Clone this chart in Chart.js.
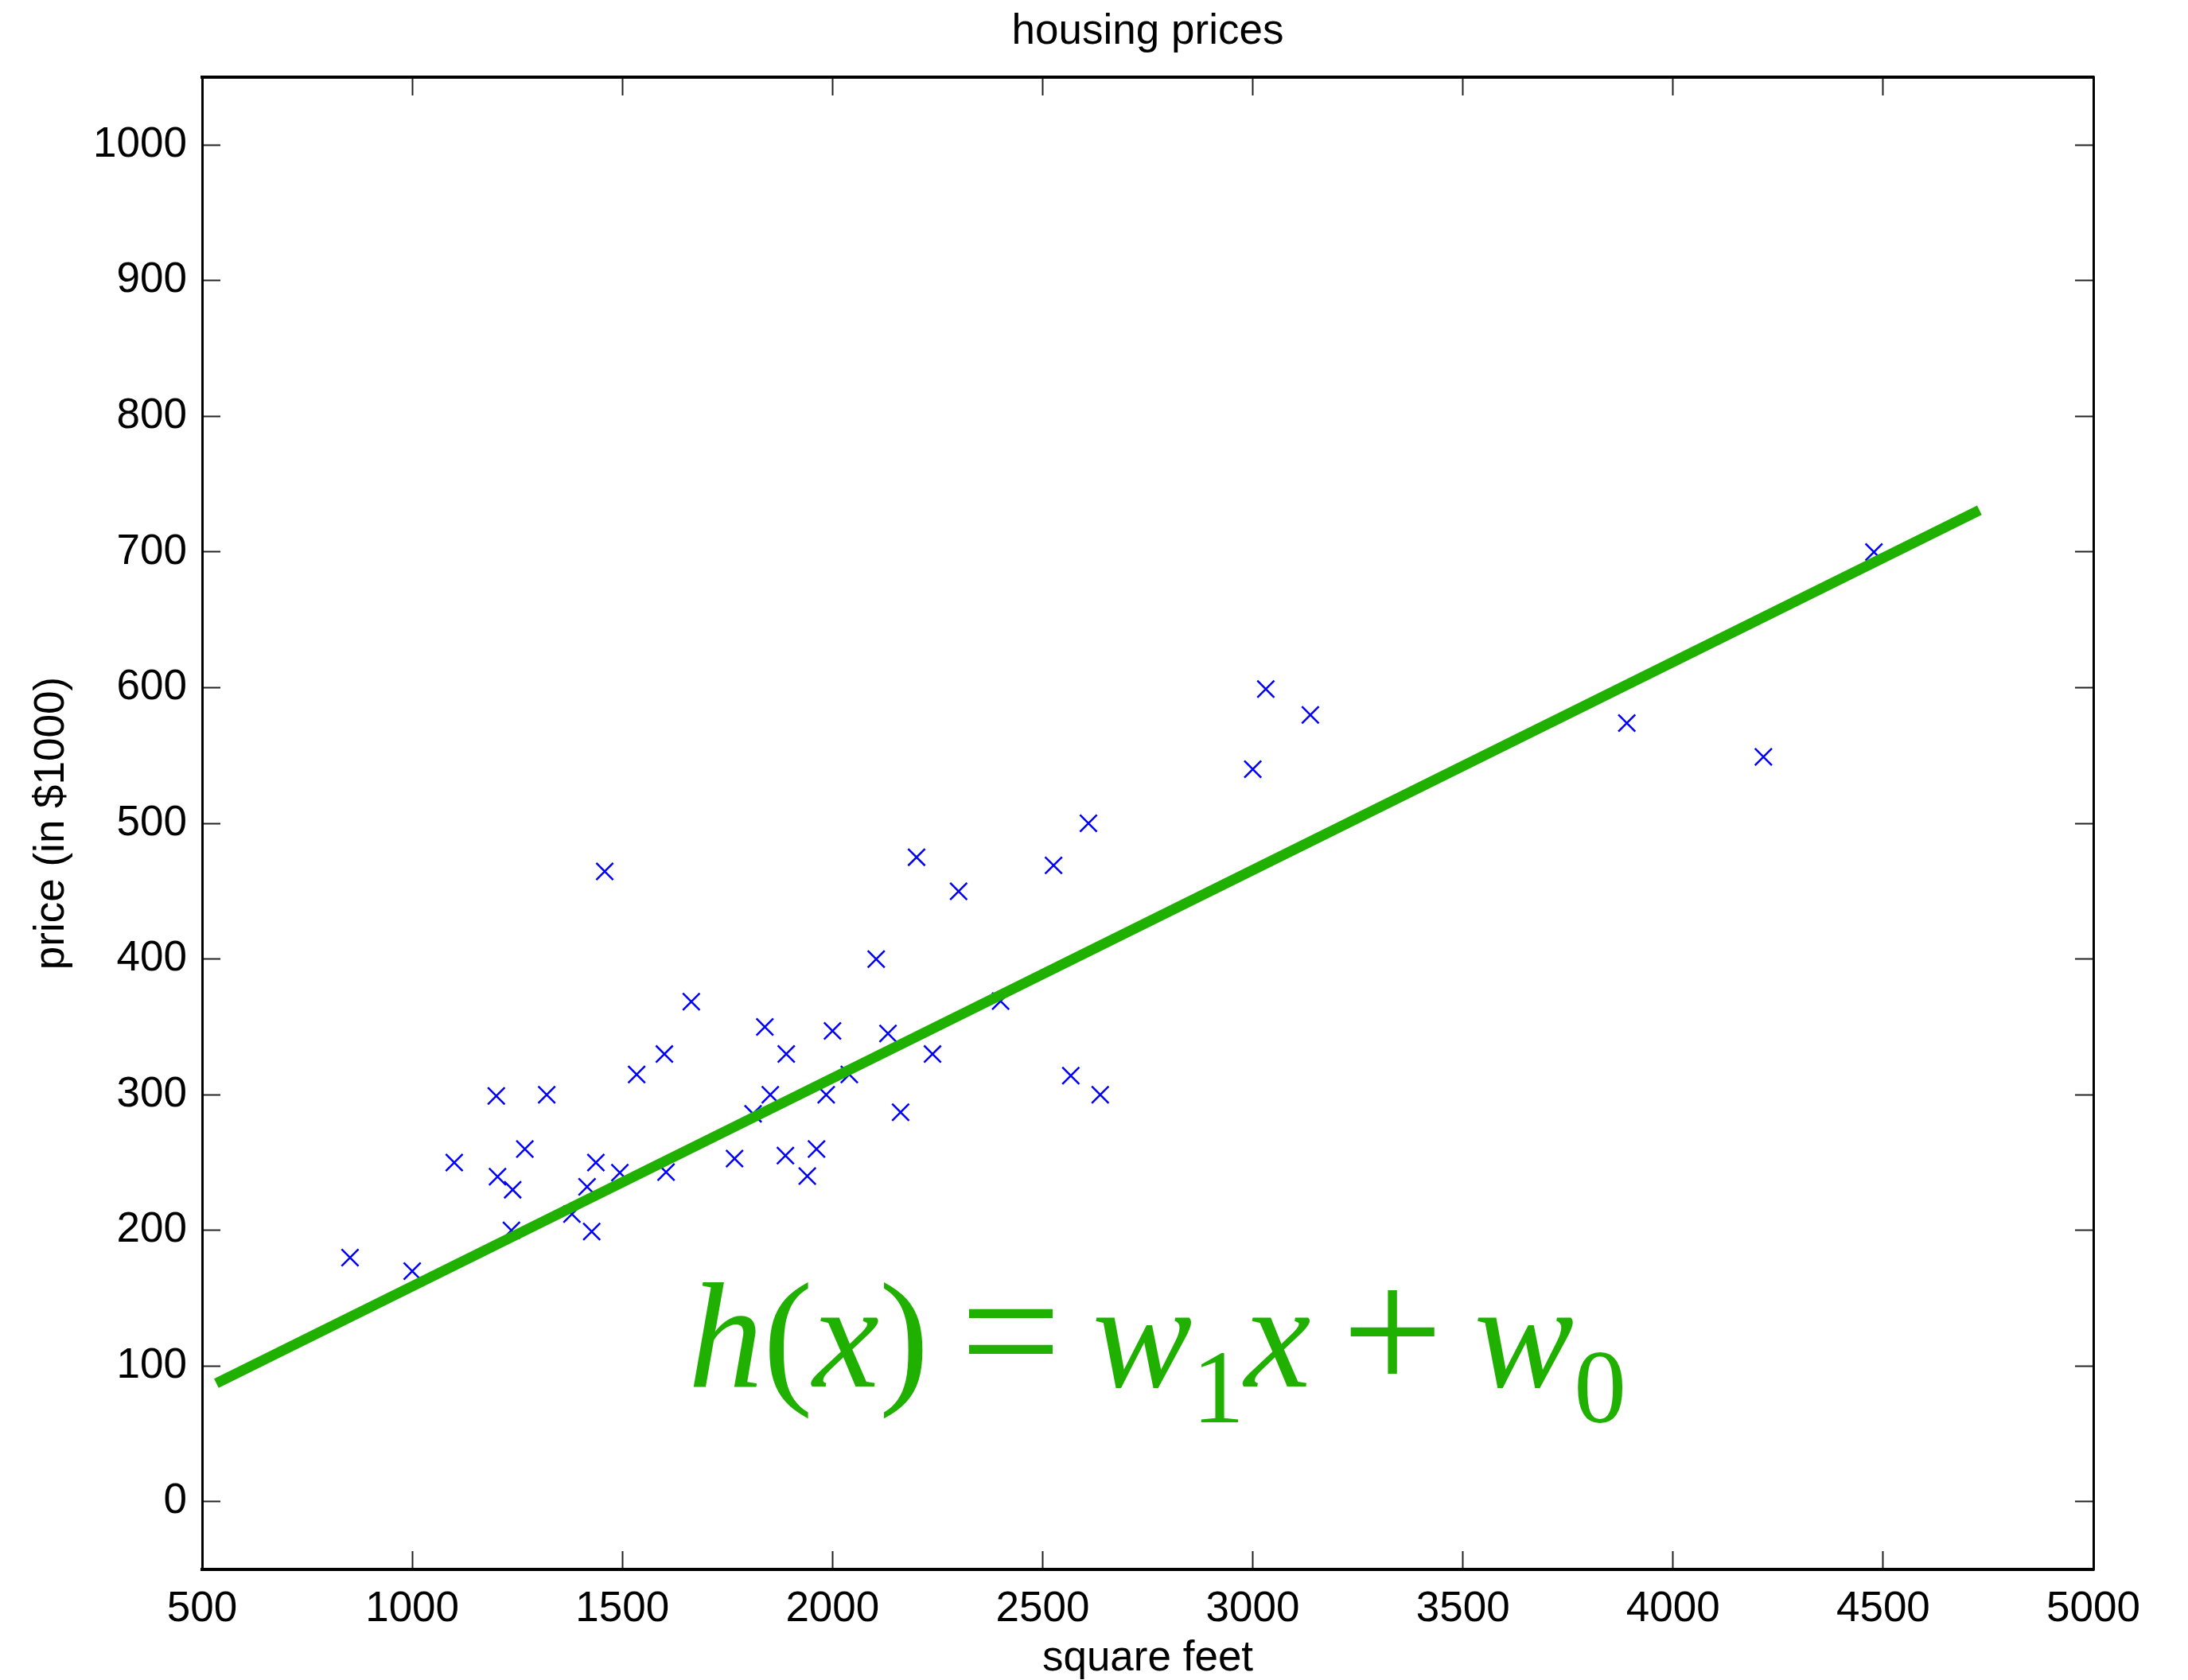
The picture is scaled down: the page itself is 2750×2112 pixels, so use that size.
<!DOCTYPE html>
<html>
<head>
<meta charset="utf-8">
<script src="https://cdn.jsdelivr.net/npm/chart.js@4.4.1/dist/chart.umd.min.js"></script>
<style>
html,body{margin:0;padding:0;background:#fff;}
#wrap{position:relative;width:2750px;height:2112px;background:#fff;}
#c{position:absolute;left:0;top:0;}
#eq{position:absolute;left:865px;top:1586px;font-family:"Liberation Serif","Times New Roman",serif;font-size:188px;line-height:188px;color:#20b000;white-space:nowrap;word-spacing:-8px;}
#eq i{font-style:italic;}
#eq .s{font-size:70%;position:relative;top:45px;line-height:0;}
#eq .op{font-size:120%;position:relative;top:6px;line-height:0;}
</style>
</head>
<body>
<div id="wrap">
<canvas id="c" width="2750" height="2112"></canvas>
<div id="eq"><i>h</i>(<i>x</i>) <span class="op">=</span> <i>w</i><span class="s">1</span><i>x</i> <span class="op">+</span> <i>w</i><span class="s">0</span></div>
</div>
<script>
// square feet of each house
const sqft = [2104,1600,2400,1416,3000,1985,1534,1427,1380,1494,1940,2000,1890,4478,1268,2300,1320,1236,2609,3031,1767,1888,1604,1962,3890,1100,1458,2526,2200,2637,1839,1000,2040,3137,1811,1437,1239,2132,4215,2162,1664,2238,2567,1200,852,1852,1203];
// price in $1000
const price = [399.9,329.9,369.0,232.0,539.9,299.9,314.9,199.0,212.0,242.5,240.0,347.0,330.0,699.9,259.9,449.9,299.9,199.9,500.0,599.0,252.9,255.0,242.9,259.9,573.9,249.9,464.5,469.0,475.0,299.9,349.9,169.9,314.9,579.9,285.9,249.9,229.9,345.0,549.0,287.0,368.5,329.9,314.0,299.0,179.9,299.9,239.5];
// hypothesis line end points
const fitX = [534, 4729];
const fitY = [87.2, 730.8];
// tick labels
const xTickValues = [500,1000,1500,2000,2500,3000,3500,4000,4500,5000];
const yTickValues = [0,100,200,300,400,500,600,700,800,900,1000];

const FONT = {family:"'Liberation Sans', Arial, Helvetica, sans-serif", size:53, lineHeight:1.2, weight:'normal'};
function gridOpts(){
  return {display:true, drawOnChartArea:false, drawTicks:true, tickLength:-23, tickWidth:2, tickColor:'#222'};
}
const setX = s => { s.ticks = xTickValues.map(v => ({value:v})); };
const setY = s => { s.ticks = yTickValues.map(v => ({value:v})); };

new Chart(document.getElementById('c'), {
  type:'scatter',
  data:{
    datasets:[
      {
        label:'h(x)',
        data: fitX.map((x,i)=>({x:x, y:fitY[i]})),
        showLine:true,
        borderColor:'#20b000',
        borderWidth:13,
        borderCapStyle:'butt',
        pointRadius:0,
        fill:false,
        order:0
      },
      {
        label:'houses',
        data: sqft.map((x,i)=>({x:x, y:price[i]})),
        showLine:false,
        pointStyle:'crossRot',
        pointRadius:15,
        pointHoverRadius:15,
        borderColor:'#0000ff',
        backgroundColor:'#0000ff',
        borderWidth:2.5,
        order:1
      }
    ]
  },
  options:{
    responsive:false,
    animation:false,
    devicePixelRatio:1,
    layout:{padding:0},
    plugins:{
      legend:{display:false},
      tooltip:{enabled:false},
      title:{display:true, text:'housing prices', font:FONT, color:'#000', padding:{top:9,bottom:0}, fullSize:false}
    },
    scales:{
      x:{
        type:'linear', position:'bottom', min:500, max:5000,
        afterBuildTicks:setX,
        afterFit:s=>{s.height=139;},
        ticks:{font:FONT, color:'#000', padding:42, maxRotation:0, autoSkip:false, callback:v=>String(v)},
        grid:gridOpts(),
        border:{display:true, color:'#000', width:4},
        title:{display:true, text:'square feet', font:{...FONT, lineHeight:1.0}, color:'#000', padding:{top:0,bottom:0}}
      },
      x2:{
        type:'linear', position:'top', min:500, max:5000,
        afterBuildTicks:setX,
        afterFit:s=>{s.height=24.4;},
        ticks:{display:false},
        grid:gridOpts(),
        border:{display:true, color:'#000', width:4}
      },
      y:{
        type:'linear', position:'left', min:-50, max:1050,
        afterBuildTicks:setY,
        afterFit:s=>{s.width=254;},
        ticks:{font:FONT, color:'#000', padding:42, autoSkip:false, callback:v=>String(v)},
        grid:gridOpts(),
        border:{display:true, color:'#000', width:3},
        title:{display:true, text:'price (in $1000)', font:FONT, color:'#000', padding:{top:34,bottom:0}}
      },
      y2:{
        type:'linear', position:'right', min:-50, max:1050,
        afterBuildTicks:setY,
        afterFit:s=>{s.width=119;},
        ticks:{display:false},
        grid:gridOpts(),
        border:{display:true, color:'#000', width:3}
      }
    }
  }
});
</script>
</body>
</html>
